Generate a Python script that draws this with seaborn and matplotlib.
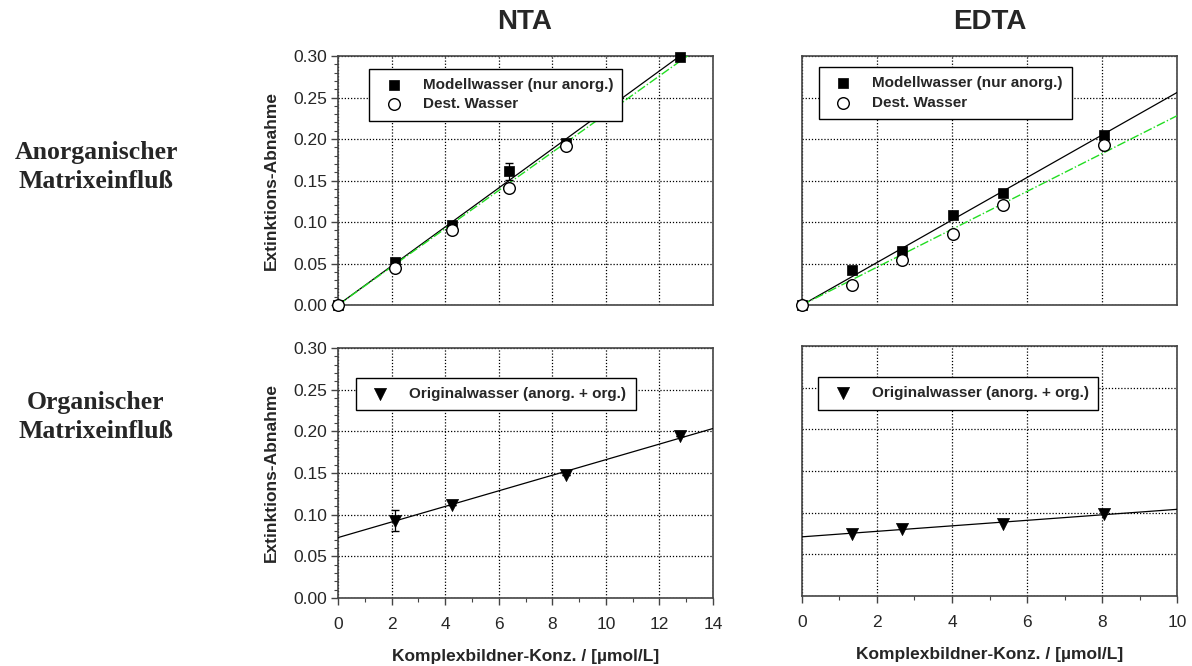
import numpy as np
import pandas as pd
import matplotlib
matplotlib.use("Agg")
import matplotlib.pyplot as plt
import seaborn as sns
from matplotlib.ticker import MultipleLocator

# ---------------- data ----------------
nta_x = [0, 2.125, 4.25, 6.375, 8.5, 12.75]
nta_modell = [0.0, 0.052, 0.096, 0.161, 0.195, 0.299]
nta_modell_err = [0, 0, 0, 0.010, 0, 0]
nta_dest_x = [0, 2.125, 4.25, 6.375, 8.5]
nta_dest = [0.0, 0.045, 0.090, 0.141, 0.192]
nta_orig_x = [2.125, 4.25, 8.5, 12.75]
nta_orig = [0.093, 0.112, 0.148, 0.194]
nta_orig_err = [0.013, 0, 0, 0]

edta_x = [0, 1.34, 2.68, 4.02, 5.36, 8.04]
edta_modell = [0.0, 0.042, 0.065, 0.108, 0.135, 0.205]
edta_dest = [0.0, 0.024, 0.054, 0.086, 0.121, 0.193]
edta_orig_x = [1.34, 2.68, 5.36, 8.04]
edta_orig = [0.075, 0.080, 0.086, 0.099]

# fit lines (intercept, slope)
nta_modell_fit = (0.0, 0.0235)
nta_dest_fit = (0.0, 0.0230)
nta_orig_fit = (0.0725, 0.00935)
edta_modell_fit = (0.0, 0.0256)
edta_dest_fit = (0.0, 0.0228)
edta_orig_fit = (0.071, 0.0033)

col_titles = ["NTA", "EDTA"]
row_labels = ["Anorganischer\nMatrixeinfluß", "Organischer\nMatrixeinfluß"]
lbl_modell = "Modellwasser (nur anorg.)"
lbl_dest = "Dest. Wasser"
lbl_orig = "Originalwasser (anorg. + org.)"
ylabel = "Extinktions-Abnahme"
xlabel = "Komplexbildner-Konz. / [µmol/L]"
yticks = [0.00, 0.05, 0.10, 0.15, 0.20, 0.25, 0.30]

# ---------------- style ----------------
sns.set_theme(style="white")
plt.rcParams["font.family"] = ["Liberation Sans", "DejaVu Sans"]
plt.rcParams["axes.edgecolor"] = "#444444"

fig = plt.figure(figsize=(11.92, 6.66), dpi=100)
W, H = 1192, 666

def mk_ax(l, t, r, b):
    return fig.add_axes([l / W, 1 - b / H, (r - l) / W, (b - t) / H])

ax_nt = mk_ax(338, 56, 713, 305)
ax_et = mk_ax(802, 56, 1177, 305)
ax_nb = mk_ax(338, 348, 713, 598)
ax_eb = mk_ax(802, 346, 1177, 596)

MS = 62
TICK_FS = 12.5
LAB_FS = 12.5
LEG_FS = 11

def fit_line(ax, fit, xmax, **kw):
    xs = np.array([0, xmax])
    ys = fit[0] + fit[1] * xs
    sns.lineplot(x=xs, y=ys, ax=ax, legend=False, zorder=3, **kw)

def style_ax(ax, xmax, show_y, show_x):
    ax.set_xlim(0, xmax)
    ax.set_ylim(0, 0.30)
    ax.xaxis.set_major_locator(MultipleLocator(2))
    ax.yaxis.set_major_locator(MultipleLocator(0.05))
    ax.grid(True, which="major", color="black", linestyle=(0, (1, 1.5)), linewidth=0.9)
    for s in ax.spines.values():
        s.set_linewidth(1.2)
        s.set_color("#444444")
    if show_y:
        ax.yaxis.set_minor_locator(MultipleLocator(0.01))
        ax.set_yticks(yticks)
        ax.set_yticklabels([f"{v:.2f}" for v in yticks], fontsize=TICK_FS)
        ax.tick_params(axis="y", which="major", left=True, direction="out", length=5, width=1, color="#444444", pad=3)
        ax.tick_params(axis="y", which="minor", left=True, direction="out", length=3, width=0.8, color="#444444")
        ax.set_ylabel(ylabel, fontsize=LAB_FS, fontweight="bold", labelpad=10)
    else:
        ax.tick_params(axis="y", left=False, labelleft=False)
        ax.set_ylabel("")
    if show_x:
        ax.xaxis.set_minor_locator(MultipleLocator(1))
        ax.tick_params(axis="x", which="major", bottom=True, direction="out", length=5, width=1, color="#444444", labelsize=TICK_FS, pad=9)
        ax.tick_params(axis="x", which="minor", bottom=True, direction="out", length=3, width=0.8, color="#444444")
        ax.set_xlabel(xlabel, fontsize=LAB_FS, fontweight="bold", labelpad=12)
    else:
        ax.tick_params(axis="x", bottom=False, labelbottom=False)
        ax.set_xlabel("")

def legend(ax, anchor):
    leg = ax.legend(loc="upper left", bbox_to_anchor=anchor, frameon=True, fancybox=False,
                    edgecolor="black", framealpha=1, prop={"weight": "bold", "size": LEG_FS},
                    handletextpad=0.9, borderpad=0.6, labelspacing=0.35, handlelength=2.0,
                    borderaxespad=0)
    leg.get_frame().set_linewidth(1.0)

# ---- NTA top ----
ax = ax_nt
fit_line(ax, nta_modell_fit, 14, color="black", linewidth=0.9)
fit_line(ax, nta_dest_fit, 14, color="#22dd22", linewidth=1.0, linestyle="-.")
ax.errorbar(nta_x, nta_modell, yerr=nta_modell_err, fmt="none", ecolor="black", elinewidth=0.9, capsize=3, zorder=4)
sns.scatterplot(x=nta_x, y=nta_modell, ax=ax, marker="s", color="black", s=MS, edgecolor="black", linewidth=0.5, label=lbl_modell, zorder=5, clip_on=False)
sns.scatterplot(x=nta_dest_x, y=nta_dest, ax=ax, marker="o", facecolor="white", s=MS + 8, edgecolor="black", linewidth=1.0, label=lbl_dest, zorder=6, clip_on=False)
style_ax(ax, 14, True, False)
legend(ax, (0.083, 0.948))

# ---- EDTA top ----
ax = ax_et
fit_line(ax, edta_modell_fit, 10, color="black", linewidth=0.9)
fit_line(ax, edta_dest_fit, 10, color="#22dd22", linewidth=1.0, linestyle="-.")
sns.scatterplot(x=edta_x, y=edta_modell, ax=ax, marker="s", color="black", s=MS, edgecolor="black", linewidth=0.5, label=lbl_modell, zorder=5, clip_on=False)
sns.scatterplot(x=edta_x, y=edta_dest, ax=ax, marker="o", facecolor="white", s=MS + 8, edgecolor="black", linewidth=1.0, label=lbl_dest, zorder=6, clip_on=False)
style_ax(ax, 10, False, False)
legend(ax, (0.045, 0.955))

# ---- NTA bottom ----
ax = ax_nb
fit_line(ax, nta_orig_fit, 14, color="black", linewidth=0.9)
ax.errorbar(nta_orig_x, nta_orig, yerr=nta_orig_err, fmt="none", ecolor="black", elinewidth=0.9, capsize=3, zorder=4)
sns.scatterplot(x=nta_orig_x, y=nta_orig, ax=ax, marker="v", color="black", s=MS + 14, edgecolor="black", linewidth=0.5, label=lbl_orig, zorder=5)
style_ax(ax, 14, True, True)
legend(ax, (0.048, 0.88))

# ---- EDTA bottom ----
ax = ax_eb
fit_line(ax, edta_orig_fit, 10, color="black", linewidth=0.9)
sns.scatterplot(x=edta_orig_x, y=edta_orig, ax=ax, marker="v", color="black", s=MS + 14, edgecolor="black", linewidth=0.5, label=lbl_orig, zorder=5)
style_ax(ax, 10, False, True)
legend(ax, (0.043, 0.875))

# ---- titles and row labels ----
fig.text(525 / W, 1 - 22 / H, col_titles[0], ha="center", va="center", fontsize=20, fontweight="bold")
fig.text(990 / W, 1 - 22 / H, col_titles[1], ha="center", va="center", fontsize=20, fontweight="bold")
fig.text(96 / W, 1 - 167 / H, row_labels[0], ha="center", va="center", fontsize=18.5, fontweight="bold",
         family=["Liberation Serif", "DejaVu Serif"], linespacing=1.3)
fig.text(96 / W, 1 - 417 / H, row_labels[1], ha="center", va="center", fontsize=18.5, fontweight="bold",
         family=["Liberation Serif", "DejaVu Serif"], linespacing=1.3)

fig.savefig("out.png", dpi=100)
